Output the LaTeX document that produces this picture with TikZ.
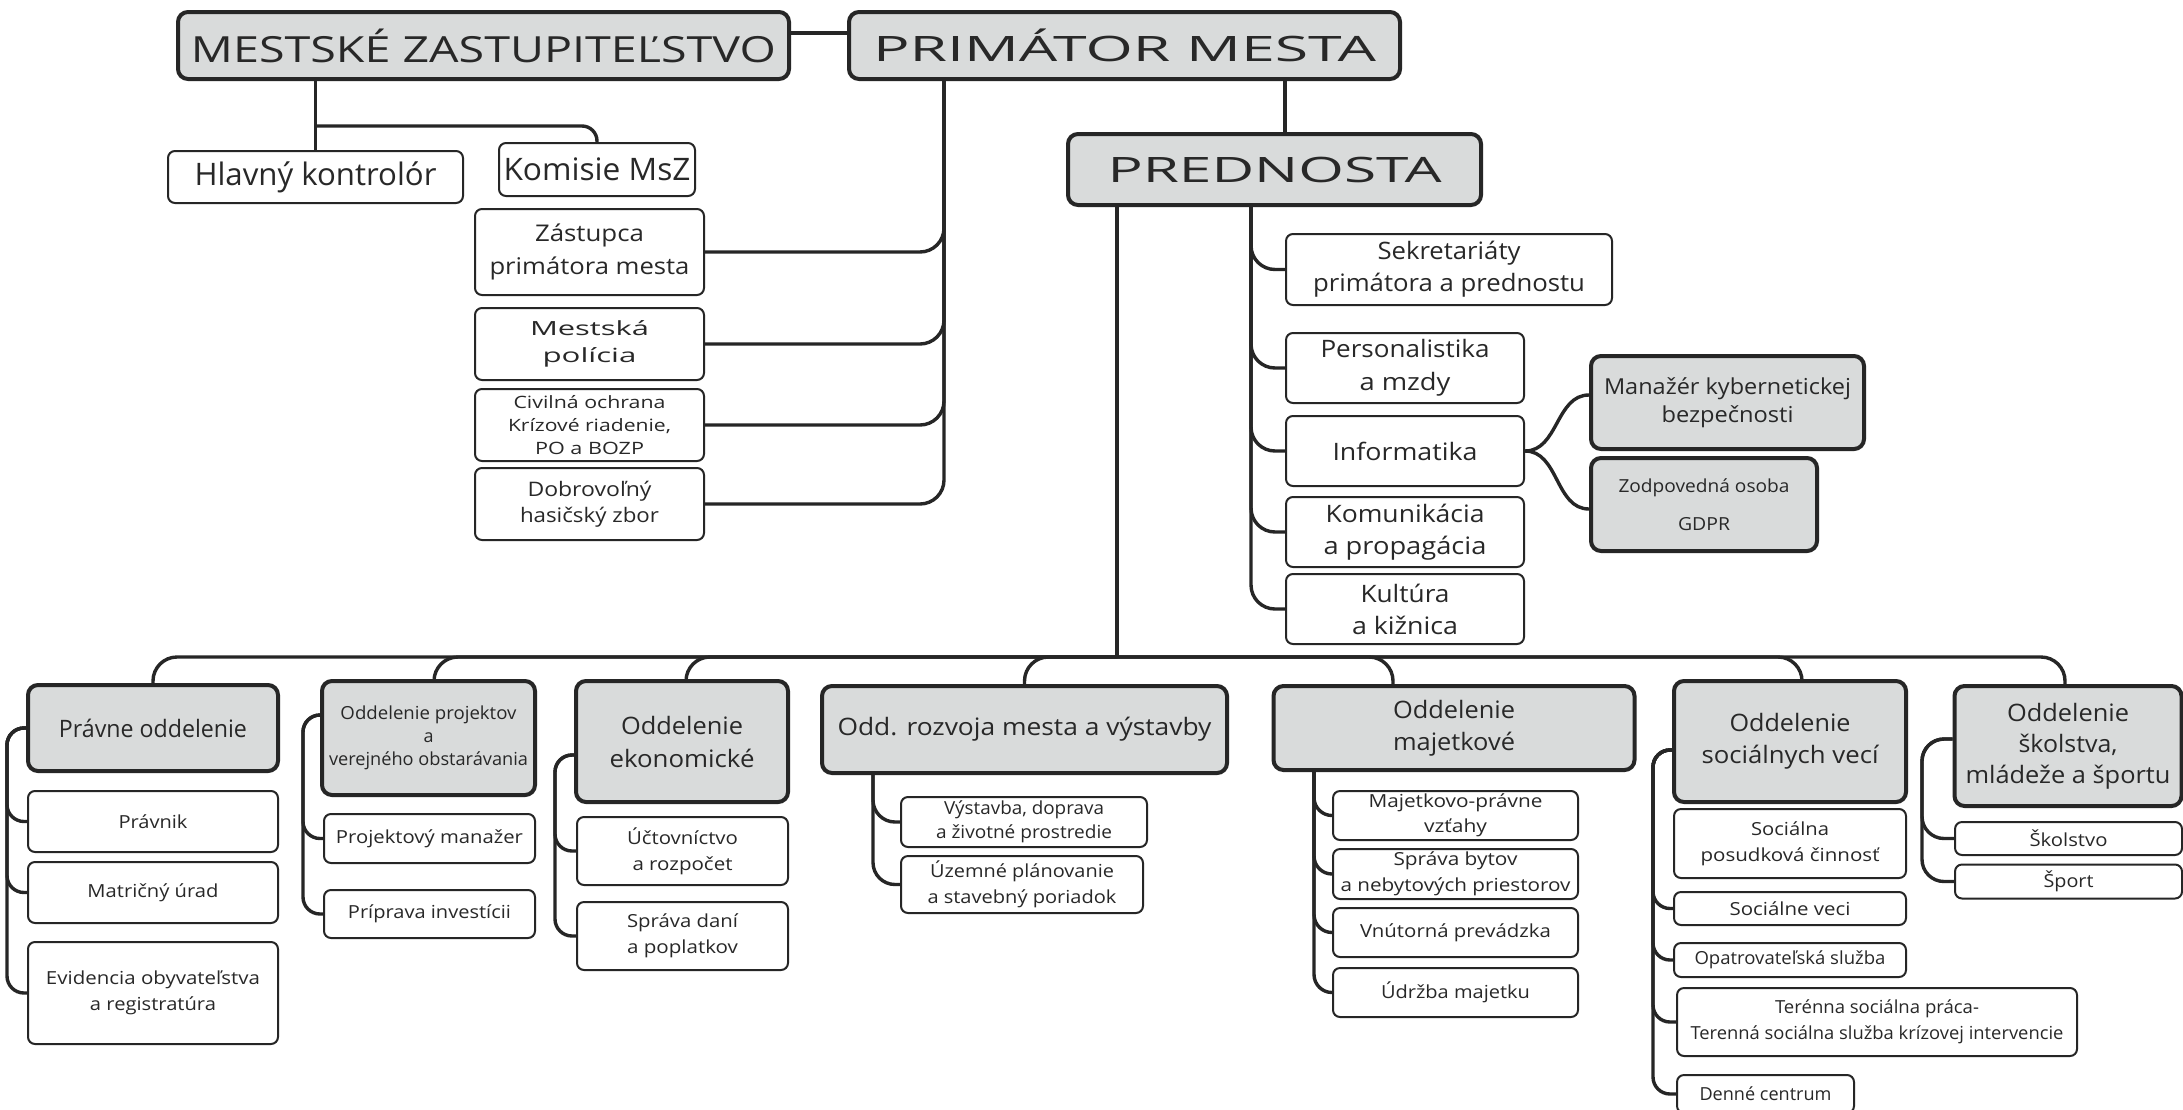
\documentclass[tikz,border=0pt]{standalone}
\usepackage{fontspec}
\setmainfont{Open Sans}
\usepackage{graphicx}
\definecolor{linec}{RGB}{38,38,38}
\definecolor{grayf}{RGB}{217,219,219}
\definecolor{textc}{RGB}{40,40,40}
\newcommand\wl[2]{\resizebox{#1pt}{\height}{#2}}
\newcommand\fz[2]{\fontsize{#1}{#2}\selectfont}
\tikzset{
  gbox/.style={draw=linec, line width=4pt, fill=grayf, rounded corners=10pt, inner sep=0pt, align=center, text=textc},
  wbox/.style={draw=linec, line width=2pt, fill=white, rounded corners=7pt, inner sep=0pt, align=center, text=textc},
  conn/.style={draw=linec, line width=3.4pt},
}
\begin{document}
\begin{tikzpicture}[x=1pt,y=-1pt]
\useasboundingbox (0,0) rectangle (2183,1109);
\fill[white] (0,0) rectangle (2183,1109);

% ---------- top level ----------
\node[gbox, minimum width=611pt, minimum height=67pt, font=\fz{36}{44}] (mz) at (483.5,45.5) {\wl{585}{MESTSKÉ ZASTUPITEĽSTVO}};
\node[gbox, minimum width=551pt, minimum height=67pt, font=\fz{35}{42}] (prim) at (1124.5,45.5) {\wl{503}{PRIMÁTOR MESTA}};
\node[gbox, minimum width=413pt, minimum height=71pt, font=\fz{35}{42}] (pred) at (1274.5,169.5) {\wl{334}{PREDNOSTA}};

\node[wbox, minimum width=295pt, minimum height=52pt, font=\fz{31}{38}] (hk) at (315.5,177) {\wl{242}{Hlavný kontrolór}};
\node[wbox, minimum width=196pt, minimum height=53pt, font=\fz{31}{38}] (kom) at (597,169.5) {\wl{187}{Komisie MsZ}};

\node[wbox, minimum width=229pt, minimum height=86pt, font=\fz{23}{33}] (zast) at (589.5,252) {\wl{109}{Zástupca}\\\wl{200}{primátora mesta}};
\node[wbox, minimum width=229pt, minimum height=72pt, font=\fz{19.5}{27}] (pol) at (589.5,344) {\wl{119}{Mestská}\\\wl{94}{polícia}};
\node[wbox, minimum width=229pt, minimum height=72pt, font=\fz{17}{23}] (civ) at (589.5,425) {\wl{152}{Civilná ochrana}\\\wl{163}{Krízové riadenie,}\\\wl{109}{PO a BOZP}};
\node[wbox, minimum width=229pt, minimum height=72pt, font=\fz{20}{26}] (dob) at (589.5,504) {\wl{124}{Dobrovoľný}\\\wl{139}{hasičský zbor}};

\node[wbox, minimum width=326pt, minimum height=71pt, font=\fz{24}{32}] (sek) at (1449,269.5) {\wl{143}{Sekretariáty}\\\wl{272}{primátora a prednostu}};
\node[wbox, minimum width=238pt, minimum height=70pt, font=\fz{24}{33}] (pers) at (1405,368) {\wl{169}{Personalistika}\\\wl{91}{a mzdy}};
\node[wbox, minimum width=238pt, minimum height=70pt, font=\fz{24}{33}] (inf) at (1405,451) {\wl{145}{Informatika}};
\node[wbox, minimum width=238pt, minimum height=70pt, font=\fz{24}{32}] (komu) at (1405,532) {\wl{159}{Komunikácia}\\\wl{163}{a propagácia}};
\node[wbox, minimum width=238pt, minimum height=70pt, font=\fz{24}{32}] (kult) at (1405,609) {\wl{89}{Kultúra}\\\wl{106}{a kižnica}};

\node[gbox, minimum width=273pt, minimum height=93pt, font=\fz{22}{28}] (kyb) at (1727.5,402.5) {\wl{247}{Manažér kybernetickej}\\\wl{132}{bezpečnosti}};
\node[gbox, minimum width=226pt, minimum height=93pt, font=\fz{18}{38}] (gdpr) at (1704,504.5) {\wl{171}{Zodpovedná osoba}\\\wl{52}{GDPR}};

% ---------- departments ----------
\node[gbox, minimum width=250pt, minimum height=86pt, font=\fz{24}{33}] (prav) at (153,728) {\wl{188}{Právne oddelenie}};
\node[gbox, minimum width=213pt, minimum height=114pt, font=\fz{18}{23}] (proj) at (428.5,738) {\wl{176}{Oddelenie projektov}\\a\\\wl{199}{verejného obstarávania}};
\node[gbox, minimum width=212pt, minimum height=121pt, font=\fz{24}{33}] (eko) at (682,741.5) {\wl{122}{Oddelenie}\\\wl{145}{ekonomické}};
\node[gbox, minimum width=405pt, minimum height=87pt, font=\fz{24}{33}] (rozv) at (1024.5,729.5) {\wl{374}{Odd. rozvoja mesta a výstavby}};
\node[gbox, minimum width=361pt, minimum height=84pt, font=\fz{24}{32}] (maj) at (1454,728) {\wl{122}{Oddelenie}\\\wl{122}{majetkové}};
\node[gbox, minimum width=232pt, minimum height=121pt, font=\fz{24}{32}] (soc) at (1790,741.5) {\wl{121}{Oddelenie}\\\wl{177}{sociálnych vecí}};
\node[gbox, minimum width=227pt, minimum height=120pt, font=\fz{24}{31}] (sko) at (2068,746) {\wl{122}{Oddelenie}\\\wl{99}{školstva,}\\\wl{205}{mládeže a športu}};

% ---------- sub units ----------
\node[wbox, minimum width=250pt, minimum height=61pt, font=\fz{18}{26}] (pravnik) at (153,821.5) {\wl{69}{Právnik}};
\node[wbox, minimum width=250pt, minimum height=61pt, font=\fz{18}{26}] (matr) at (153,892.5) {\wl{131}{Matričný úrad}};
\node[wbox, minimum width=250pt, minimum height=102pt, font=\fz{18}{26}] (evid) at (153,993) {\wl{214}{Evidencia obyvateľstva}\\\wl{126}{a registratúra}};

\node[wbox, minimum width=211pt, minimum height=49pt, font=\fz{18}{26}] (pm) at (429.5,838.5) {\wl{187}{Projektový manažer}};
\node[wbox, minimum width=211pt, minimum height=48pt, font=\fz{18}{26}] (pi) at (429.5,914) {\wl{163}{Príprava investícii}};

\node[wbox, minimum width=211pt, minimum height=68pt, font=\fz{18}{26}] (uct) at (682.5,851) {\wl{111}{Účtovníctvo}\\\wl{100}{a rozpočet}};
\node[wbox, minimum width=211pt, minimum height=68pt, font=\fz{18}{26}] (spd) at (682.5,936) {\wl{111}{Správa daní}\\\wl{111}{a poplatkov}};

\node[wbox, minimum width=246pt, minimum height=50pt, font=\fz{18}{24}] (vys) at (1024,822) {\wl{160}{Výstavba, doprava}\\\wl{176}{a životné prostredie}};
\node[wbox, minimum width=242pt, minimum height=57pt, font=\fz{18}{26}] (uzp) at (1022,884.5) {\wl{184}{Územné plánovanie}\\\wl{189}{a stavebný poriadok}};

\node[wbox, minimum width=245pt, minimum height=49pt, font=\fz{18}{25}] (mpv) at (1455.5,815.5) {\wl{174}{Majetkovo-právne}\\\wl{63}{vzťahy}};
\node[wbox, minimum width=245pt, minimum height=50pt, font=\fz{18}{26}] (sbnp) at (1455.5,874) {\wl{124}{Správa bytov}\\\wl{230}{a nebytových priestorov}};
\node[wbox, minimum width=245pt, minimum height=49pt, font=\fz{18}{26}] (vp) at (1455.5,932.5) {\wl{191}{Vnútorná prevádzka}};
\node[wbox, minimum width=245pt, minimum height=49pt, font=\fz{18}{26}] (um) at (1455.5,992.5) {\wl{149}{Údržba majetku}};

\node[wbox, minimum width=232pt, minimum height=69pt, font=\fz{18}{26}] (spc) at (1790,843.5) {\wl{78}{Sociálna}\\\wl{179}{posudková činnosť}};
\node[wbox, minimum width=232pt, minimum height=33pt, font=\fz{18}{26}] (sv) at (1790,908.5) {\wl{121}{Sociálne veci}};
\node[wbox, minimum width=232pt, minimum height=34pt, font=\fz{18}{26}] (opat) at (1790,960) {\wl{191}{Opatrovateľská služba}};
\node[wbox, minimum width=400pt, minimum height=68pt, font=\fz{18}{26}] (ter) at (1877,1022) {\wl{204}{Terénna sociálna práca-}\\\wl{373}{Terenná sociálna služba krízovej intervencie}};
\node[wbox, minimum width=177pt, minimum height=38pt, font=\fz{18}{26}] (den) at (1765.5,1094) {\wl{132}{Denné centrum}};

\node[wbox, minimum width=227pt, minimum height=33pt, font=\fz{18}{26}] (skolstvo) at (2068.5,838.5) {\wl{78}{Školstvo}};
\node[wbox, minimum width=227pt, minimum height=34pt, font=\fz{18}{26}] (sport) at (2068.5,881.5) {\wl{50}{Šport}};

% ---------- connectors ----------
\draw[conn] ([yshift=12.5pt]mz.east) -- ([yshift=12.5pt]prim.west);
\draw[conn] (mz.south -| hk.north) -- (hk.north);
\coordinate (mzj) at (315.5,126);
\draw[conn, rounded corners=15pt] (mzj) -| (kom.north);

\coordinate (pj) at ([xshift=10.5pt]pred.north);
\draw[conn] (pj) -- (pj |- prim.south);

\coordinate (ptop) at ([xshift=-180.5pt]prim.south);
\foreach \c in {zast,pol,civ,dob}
  \draw[conn, rounded corners=24pt] (ptop) |- (\c.east);

\coordinate (stop) at ([xshift=-23.5pt]pred.south);
\foreach \c in {sek,pers,inf,komu,kult}
  \draw[conn, rounded corners=24pt] (stop) |- (\c.west);

\draw[conn] (inf.east) to[out=0,in=180] ([yshift=7.5pt]kyb.west);
\draw[conn] (inf.east) to[out=0,in=180] ([yshift=-4.5pt]gdpr.west);

\coordinate (btop) at ([xshift=-157.5pt]pred.south);
\coordinate (bus) at (1117,657);
\draw[conn] (btop) -- (bus);
\draw[conn, rounded corners=24pt] (bus) -| (prav.north);
\draw[conn, rounded corners=24pt] (bus) -| ([xshift=5.5pt]proj.north);
\draw[conn, rounded corners=24pt] (bus) -| ([xshift=4pt]eko.north);
\draw[conn, rounded corners=24pt] (bus) -| (rozv.north);
\draw[conn, rounded corners=24pt] (bus) -| ([xshift=-61pt]maj.north);
\draw[conn, rounded corners=24pt] (bus) -| ([xshift=12pt]soc.north);
\draw[conn, rounded corners=24pt] (bus) -| ([xshift=-3pt]sko.north);

% department subtrees
\coordinate (pravT) at ([xshift=-19pt]prav.west);
\foreach \c in {pravnik,matr,evid}
  \draw[conn, rounded corners=17pt] (prav.west) -- (pravT) |- (\c.west);

\coordinate (projA) at ([yshift=23pt]proj.west);
\coordinate (projT) at ([xshift=-17pt]projA);
\foreach \c in {pm,pi}
  \draw[conn, rounded corners=17pt] (projA) -- (projT) |- (\c.west);

\coordinate (ekoA) at ([yshift=-13.5pt]eko.west);
\coordinate (ekoT) at ([xshift=-19pt]ekoA);
\foreach \c in {uct,spd}
  \draw[conn, rounded corners=17pt] (ekoA) -- (ekoT) |- (\c.west);

\coordinate (rozvT) at ([xshift=-151.5pt]rozv.south);
\foreach \c in {vys,uzp}
  \draw[conn, rounded corners=22pt] (rozvT) |- (\c.west);

\coordinate (majT) at ([xshift=-140pt]maj.south);
\foreach \c in {mpv,sbnp,vp,um}
  \draw[conn, rounded corners=18pt] (majT) |- (\c.west);

\coordinate (socA) at ([yshift=-8.5pt]soc.west);
\coordinate (socT) at ([xshift=-19pt]socA);
\foreach \c in {sv,opat,ter,den}
  \draw[conn, rounded corners=17pt] (socA) -- (socT) |- (\c.west);

\coordinate (skoA) at ([yshift=7pt]sko.west);
\coordinate (skoT) at ([xshift=-30.5pt]skoA);
\foreach \c in {skolstvo,sport}
  \draw[conn, rounded corners=22pt] (skoA) -- (skoT) |- (\c.west);
\end{tikzpicture}
\end{document}
